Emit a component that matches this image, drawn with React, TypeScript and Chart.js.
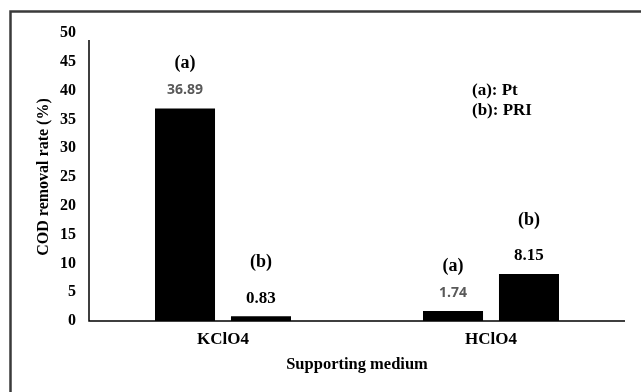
import React, { useEffect, useRef } from "react";
import { Chart, registerables } from "chart.js";

Chart.register(...registerables);

const categories = ["KClO4", "HClO4"];
const ptValues = [36.89, 1.74];
const priValues = [0.83, 8.15];
const seriesTags = ["(a)", "(b)"];
const legendLines = ["(a): Pt", "(b): PRI"];
const yTitle = "COD removal rate (%)";
const xTitle = "Supporting medium";

const SERIF = "'Liberation Serif', 'Times New Roman', serif";

const annotationPlugin = {
  id: "annotations",
  beforeDraw(chart: any) {
    const { ctx } = chart;
    ctx.save();
    ctx.fillStyle = "#ffffff";
    ctx.fillRect(0, 0, chart.width, chart.height);
    ctx.strokeStyle = "#3a3a3a";
    ctx.lineWidth = 2.5;
    ctx.strokeRect(10.5, 11.5, 1000, 1000);
    ctx.restore();
  },
  afterDraw(chart: any) {
    const { ctx, chartArea } = chart;
    ctx.save();
    // axes lines
    ctx.strokeStyle = "#000";
    ctx.lineWidth = 1.5;
    ctx.beginPath();
    ctx.moveTo(chartArea.left, chartArea.top + 7);
    ctx.lineTo(chartArea.left, chartArea.bottom);
    ctx.lineTo(chartArea.right, chartArea.bottom);
    ctx.stroke();

    ctx.textAlign = "center";
    ctx.textBaseline = "middle";
    chart.data.datasets.forEach((ds: any, di: number) => {
      const meta = chart.getDatasetMeta(di);
      meta.data.forEach((bar: any, i: number) => {
        const v = ds.data[i];
        const x = bar.x;
        const y = bar.y;
        if (di === 0) {
          ctx.font = "bold 14px 'Open Sans', sans-serif";
          ctx.fillStyle = "#595959";
          ctx.fillText(v.toFixed(2), x, y - 18);
          ctx.font = `bold 18px ${SERIF}`;
          ctx.fillStyle = "#000";
          ctx.fillText(seriesTags[0], x, y - 45);
        } else {
          ctx.font = `bold 17px ${SERIF}`;
          ctx.fillStyle = "#000";
          ctx.fillText(v.toFixed(2), x, y - 18);
          ctx.font = `bold 18px ${SERIF}`;
          ctx.fillText(seriesTags[1], x, y - 54);
        }
      });
    });

    ctx.textAlign = "left";
    ctx.font = `bold 17px ${SERIF}`;
    ctx.fillStyle = "#000";
    ctx.fillText(legendLines[0], 472, 91);
    ctx.fillText(legendLines[1], 472, 111);
    ctx.restore();
  },
};

export default function App() {
  const ref = useRef<HTMLCanvasElement>(null);
  useEffect(() => {
    if (!ref.current) return;
    const chart = new Chart(ref.current, {
      type: "bar",
      data: {
        labels: categories,
        datasets: [
          {
            label: "Pt",
            data: ptValues,
            backgroundColor: "#000",
            categoryPercentage: 0.567,
            barPercentage: 0.79,
          },
          {
            label: "PRI",
            data: priValues,
            backgroundColor: "#000",
            categoryPercentage: 0.567,
            barPercentage: 0.79,
          },
        ],
      },
      options: {
        responsive: false,
        animation: false,
        devicePixelRatio: 1,
        layout: { padding: { top: 33, right: 16, bottom: 0, left: 0 } },
        plugins: {
          legend: { display: false },
          tooltip: { enabled: false },
        },
        scales: {
          x: {
            grid: { display: false, drawTicks: false },
            border: { display: false },
            ticks: {
              color: "#000",
              padding: 8,
              font: { family: SERIF, size: 17, weight: "bold" },
            },
            title: {
              display: true,
              text: xTitle,
              color: "#000",
              font: { family: SERIF, size: 16.5, weight: "bold" },
              padding: { top: 0, bottom: 17 },
            },
            afterFit: (s: any) => {
              s.height = 71;
            },
          },
          y: {
            min: 0,
            max: 50,
            grid: { display: false, drawTicks: false },
            border: { display: false },
            ticks: {
              stepSize: 5,
              color: "#000",
              padding: 13,
              font: { family: SERIF, size: 16, weight: "bold" },
            },
            title: {
              display: true,
              text: yTitle,
              color: "#000",
              font: { family: SERIF, size: 16, weight: "bold" },
              padding: { top: 34, bottom: 0 },
            },
            afterFit: (s: any) => {
              s.width = 89;
            },
          },
        },
      },
      plugins: [annotationPlugin],
    } as any);
    return () => chart.destroy();
  }, []);
  return (
    <div style={{ position: "fixed", left: 0, top: 0, width: 641, height: 392 }}>
      <canvas ref={ref} width={641} height={392} />
    </div>
  );
}
